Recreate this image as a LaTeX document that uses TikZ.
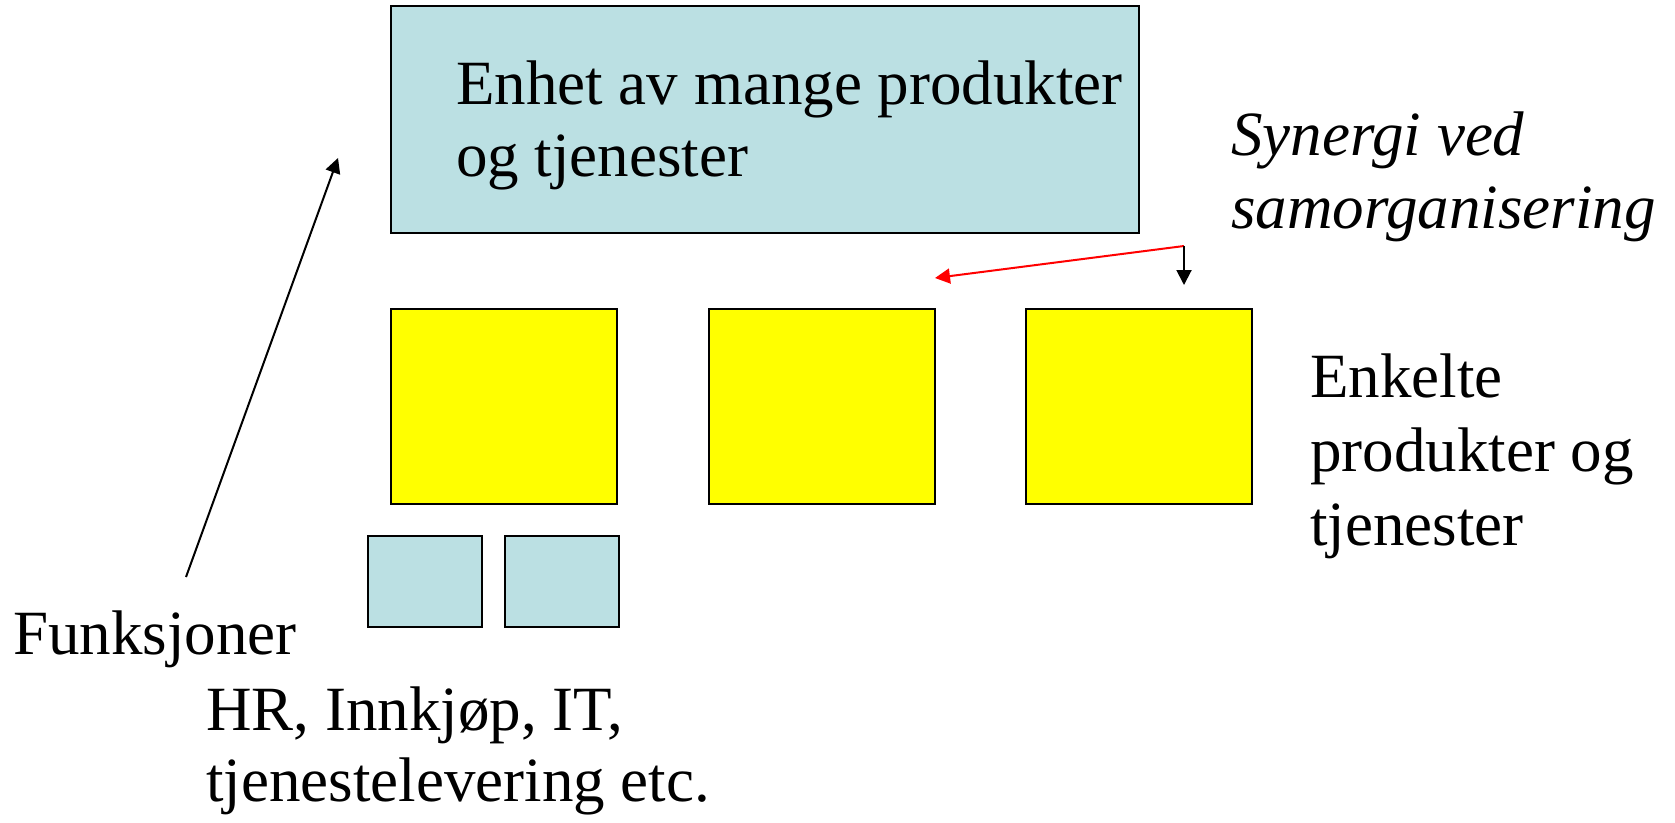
\documentclass[tikz,border=0pt]{standalone}
\usepackage{fontspec}
\setmainfont{Liberation Serif}
\usetikzlibrary{arrows.meta}
\definecolor{lysbla}{RGB}{187,224,227}
\definecolor{gul}{RGB}{255,255,0}
\definecolor{rod}{RGB}{255,0,0}
\tikzstyle{boks} = [draw, line width=2pt, inner sep=0pt, anchor=north west]
\tikzstyle{enhet} = [boks, fill=lysbla, minimum width=748pt, minimum height=227pt]
\tikzstyle{produkt} = [boks, fill=gul, minimum width=226pt, minimum height=195pt]
\tikzstyle{funk} = [boks, fill=lysbla, minimum width=114pt, minimum height=91pt]
\tikzstyle{tekst} = [align=left, inner sep=0pt, anchor=base west, font=\fontsize{63}{72}\selectfont]
\tikzstyle{pil} = [-{Triangle[length=15pt,width=15pt]}, line width=2pt]

\begin{document}
\begin{tikzpicture}[x=1pt,y=-1pt]
\useasboundingbox (0,0) rectangle (1675,822);

% boxes
\node[enhet] (enhet) at (390,5) {};
\node[produkt] (p1) at (390,308) {};
\node[produkt] (p2) at (708,308) {};
\node[produkt] (p3) at (1025,308) {};
\node[funk] (f1) at (367,535) {};
\node[funk] (f2) at (504,535) {};

% texts (anchored on the baseline of the last line)
\node[tekst] (enhettekst) at (456,176) {Enhet av mange produkter\\og tjenester};
\node[tekst, font=\fontsize{63}{73}\selectfont\itshape] (synergi) at (1231,228) {Synergi ved\\samorganisering};
\node[tekst, font=\fontsize{63}{74}\selectfont] (enkelte) at (1310,545) {Enkelte\\produkter og\\tjenester};
\node[tekst] (funksjoner) at (13,654) {Funksjoner};
\node[tekst, font=\fontsize{63}{71}\selectfont] (hr) at (206,801) {HR, Innkjøp, IT,\\tjenestelevering etc.};

% arrows
\coordinate (funkpil) at (186,577);
\coordinate (enhetpil) at (338,158);
\coordinate (syn) at (1184,246);
\coordinate (p2pil) at (935,278);
\coordinate (p3pil) at (1184,285);

\draw[pil] (funkpil) -- (enhetpil);
\draw[pil, rod] (syn) -- (p2pil);
\draw[pil] (syn) -- (p3pil);

\end{tikzpicture}
\end{document}
